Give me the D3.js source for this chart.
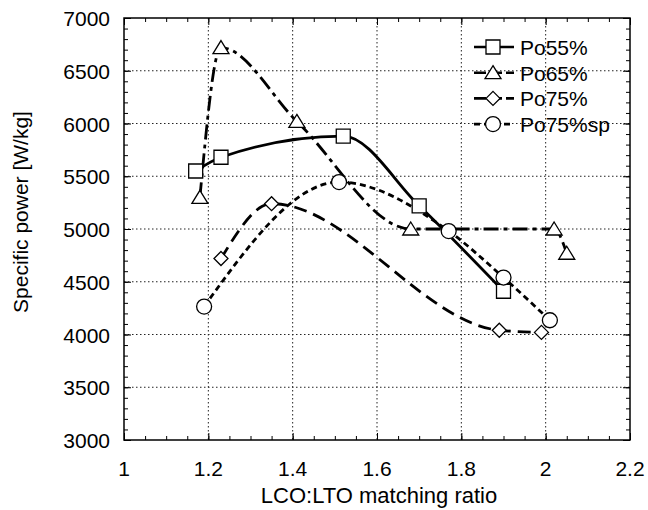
<!DOCTYPE html>
<html lang="en">
<head>
<meta charset="UTF-8">
<title>Specific power vs matching ratio</title>
<style>
  body { margin: 0; background: #fff; }
  text { font-family: Arial, "Liberation Sans", sans-serif; fill: #000; }
  .grid { stroke: #222; stroke-width: 1; stroke-dasharray: 1.5,2.5; }
</style>
<script src="https://d3js.org/d3.v7.min.js"></script>
</head>
<body>
<svg width="648" height="510"></svg>
<script>
// data
const po55 = [[1.17, 5550], [1.23, 5680], [1.52, 5880], [1.70, 5220], [1.90, 4410]];
const po65 = [[1.18, 5300], [1.23, 6720], [1.41, 6020], [1.68, 5000], [2.02, 5000], [2.05, 4770]];
const po75 = [[1.23, 4720], [1.35, 5240], [1.89, 4040], [1.99, 4020]];
const po75sp = [[1.19, 4265], [1.51, 5445], [1.77, 4980], [1.90, 4540], [2.01, 4135]];
const xTicks = [1, 1.2, 1.4, 1.6, 1.8, 2, 2.2];
const yTicks = [3000, 3500, 4000, 4500, 5000, 5500, 6000, 6500, 7000];

const series = [
  {name: 'Po55%', data: po55, dash: null, legDash: null, marker: 'square'},
  {name: 'Po65%', data: po65, dash: '15,5,4,5', legDash: '12,4', marker: 'triangle'},
  {name: 'Po75%', data: po75, dash: '13,7', legDash: '12,4', marker: 'diamond'},
  {name: 'Po75%sp', data: po75sp, dash: '6,4', legDash: '6,4', marker: 'circle'}
];

const svg = d3.select('svg');
const L = 124, R = 630, T = 18, B = 440;
const x = d3.scaleLinear().domain([1, 2.2]).range([L, R]);
const y = d3.scaleLinear().domain([3000, 7000]).range([B, T]);

// grid
svg.append('g').selectAll('line').data(xTicks.slice(1, -1)).join('line')
  .attr('class', 'grid')
  .attr('x1', d => x(d)).attr('x2', d => x(d)).attr('y1', T).attr('y2', B);
svg.append('g').selectAll('line').data(yTicks.slice(1, -1)).join('line')
  .attr('class', 'grid')
  .attr('y1', d => y(d)).attr('y2', d => y(d)).attr('x1', L).attr('x2', R);

// inward ticks on all sides
const xMinor = d3.range(1, 2.2001, 0.05);
const yMinor = d3.range(3000, 7001, 100);
svg.append('g').attr('transform', `translate(0,${B})`)
  .call(d3.axisTop(x).tickValues(xMinor).tickSize(4).tickFormat(''));
svg.append('g').attr('transform', `translate(0,${B})`)
  .call(d3.axisTop(x).tickValues(xTicks).tickSize(7).tickFormat(''));
svg.append('g').attr('transform', `translate(0,${T})`)
  .call(d3.axisBottom(x).tickValues(xMinor).tickSize(4).tickFormat(''));
svg.append('g').attr('transform', `translate(0,${T})`)
  .call(d3.axisBottom(x).tickValues(xTicks).tickSize(7).tickFormat(''));
svg.append('g').attr('transform', `translate(${L},0)`)
  .call(d3.axisRight(y).tickValues(yMinor).tickSize(4).tickFormat(''));
svg.append('g').attr('transform', `translate(${L},0)`)
  .call(d3.axisRight(y).tickValues(yTicks).tickSize(7).tickFormat(''));
svg.append('g').attr('transform', `translate(${R},0)`)
  .call(d3.axisLeft(y).tickValues(yMinor).tickSize(4).tickFormat(''));
svg.append('g').attr('transform', `translate(${R},0)`)
  .call(d3.axisLeft(y).tickValues(yTicks).tickSize(7).tickFormat(''));
svg.selectAll('.domain').remove();
svg.selectAll('.tick line').attr('stroke', '#000').attr('stroke-width', 1);

svg.append('rect').attr('x', L).attr('y', T).attr('width', R - L).attr('height', B - T)
  .attr('fill', 'none').attr('stroke', '#000').attr('stroke-width', 1.5);

// tick labels
svg.append('g').selectAll('text').data(xTicks).join('text')
  .attr('x', d => x(d)).attr('y', B + 36)
  .attr('text-anchor', 'middle').attr('font-size', 21)
  .text(d => d);
svg.append('g').selectAll('text').data(yTicks).join('text')
  .attr('x', L - 14).attr('y', d => y(d) + 8)
  .attr('text-anchor', 'end').attr('font-size', 21)
  .text(d => d);

// axis titles
svg.append('text').attr('x', (L + R) / 2 + 2).attr('y', 503)
  .attr('text-anchor', 'middle').attr('font-size', 22)
  .text('LCO:LTO matching ratio');
svg.append('text').attr('transform', 'translate(28,212) rotate(-90)')
  .attr('text-anchor', 'middle').attr('font-size', 21)
  .text('Specific power [W/kg]');

// markers
function drawMarker(g, type, cx, cy) {
  const s = g.append('path').attr('fill', '#fff').attr('stroke', '#000').attr('stroke-width', 1.3);
  if (type === 'square') s.attr('d', `M${cx-7},${cy-7}h14v14h-14Z`);
  else if (type === 'triangle') s.attr('d', `M${cx},${cy-7}L${cx+8},${cy+6}L${cx-8},${cy+6}Z`);
  else if (type === 'diamond') s.attr('d', `M${cx},${cy-7}L${cx+7},${cy}L${cx},${cy+7}L${cx-7},${cy}Z`);
  else s.attr('d', `M${cx+7.5},${cy}A7.5,7.5 0 1,1 ${cx-7.5},${cy}A7.5,7.5 0 1,1 ${cx+7.5},${cy}Z`);
}

const line = d3.line().x(d => x(d[0])).y(d => y(d[1])).curve(d3.curveMonotoneX);

series.forEach(s => {
  svg.append('path').datum(s.data)
    .attr('d', line).attr('fill', 'none').attr('stroke', '#000')
    .attr('stroke-width', 2.8).attr('stroke-dasharray', s.dash);
});
series.forEach(s => {
  const g = svg.append('g');
  s.data.forEach(d => drawMarker(g, s.marker, x(d[0]), y(d[1])));
});

// legend
const leg = svg.append('g');
series.forEach((s, i) => {
  const ly = 47 + i * 25.7;
  leg.append('line').attr('x1', 474).attr('x2', 514).attr('y1', ly).attr('y2', ly)
    .attr('stroke', '#000').attr('stroke-width', 2.6).attr('stroke-dasharray', s.legDash);
  drawMarker(leg, s.marker, 493, ly);
  leg.append('text').attr('x', 520).attr('y', ly + 8).attr('font-size', 21).text(s.name);
});
</script>
</body>
</html>
